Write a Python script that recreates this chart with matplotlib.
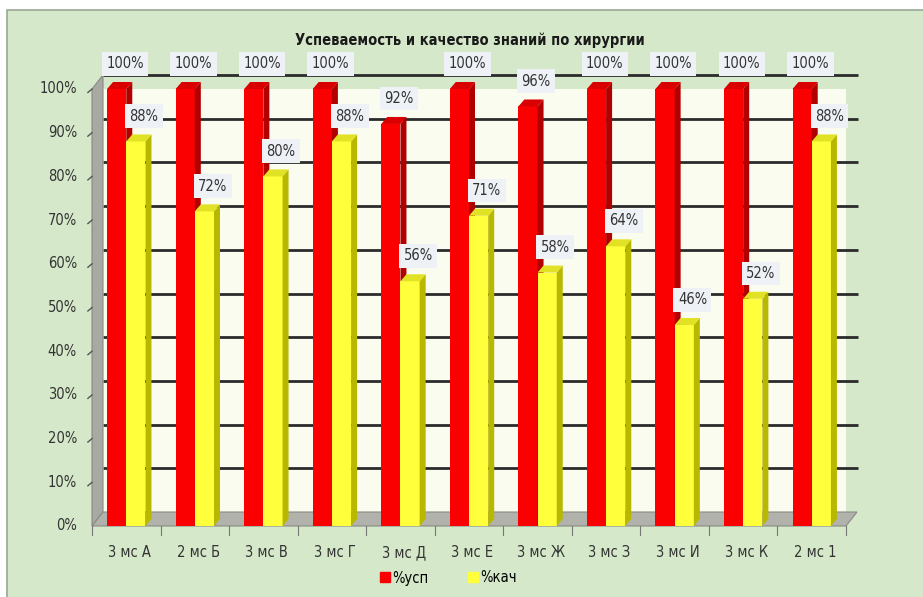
import matplotlib
matplotlib.use('Agg')
import matplotlib.pyplot as plt
from matplotlib.patches import Polygon, Rectangle
from matplotlib.lines import Line2D
import numpy as np

# data
groups = ['3 мс А', '2 мс Б', '3 мс В', '3 мс Г', '3 мс Д', '3 мс Е',
          '3 мс Ж', '3 мс З', '3 мс И', '3 мс К', '2 мс 1']
usp = [100, 100, 100, 100, 92, 100, 96, 100, 100, 100, 100]
kach = [88, 72, 80, 88, 56, 71, 58, 64, 46, 52, 88]
y_ticks = [0, 10, 20, 30, 40, 50, 60, 70, 80, 90, 100]

plt.rcParams['font.family'] = ['DejaVu Sans']
plt.rcParams['font.stretch'] = 'condensed'

fig = plt.figure(figsize=(9.23, 5.97), dpi=100)
fig.patch.set_facecolor('white')
# green chart area with thin border
fig.add_artist(Rectangle((7 / 923, -0.01), 1.0, (597 - 10) / 597 + 0.01,
                         transform=fig.transFigure, facecolor='#d5e8c9',
                         edgecolor='#9aa894', linewidth=1.2, zorder=0))

ax = fig.add_axes([92 / 923, (597 - 526) / 597, (846 - 92) / 923, (526 - 89) / 597])
ax.set_xlim(-0.5, len(groups) - 0.5)
ax.set_ylim(0, 100)
ax.axis('off')

# depth offset in pixels -> data units
fig.canvas.draw()
px_x = ax.transData.transform((1, 0))[0] - ax.transData.transform((0, 0))[0]
px_y = ax.transData.transform((0, 1))[1] - ax.transData.transform((0, 0))[1]
dx = 11 / px_x
dy = 14 / px_y
bdx = 6 / px_x
bdy = 7 / px_y

x0, x1 = -0.5, len(groups) - 0.5

# back wall
ax.add_patch(Polygon([(x0 + dx, dy), (x1 + dx, dy), (x1 + dx, 100 + dy), (x0 + dx, 100 + dy)],
                     closed=True, facecolor='#fafcf0', edgecolor='none', zorder=1))
# left wall
ax.add_patch(Polygon([(x0, 0), (x0 + dx, dy), (x0 + dx, 100 + dy), (x0, 100)],
                     closed=True, facecolor='#a9a9a3', edgecolor='#8a8a85', lw=0.8,
                     zorder=2, clip_on=False))
# floor
ax.add_patch(Polygon([(x0, 0), (x1, 0), (x1 + dx, dy), (x0 + dx, dy)],
                     closed=True, facecolor='#b2b2ac', edgecolor='#8a8a85', lw=0.8,
                     zorder=2, clip_on=False))

# gridlines on back wall
for t in y_ticks[1:]:
    ax.plot([x0 + dx, x1 + dx + 0.02], [t + dy, t + dy], color='#2b2b2b', lw=2.0,
            zorder=1.5, clip_on=False, solid_capstyle='butt')
    ax.plot([x0 - 0.06, x0], [t - 0.8, t], color='#555555', lw=1.0, zorder=2,
            clip_on=False)
for t in y_ticks:
    ax.text(x0 - 0.22, t, f'{t}%', ha='right', va='center', fontsize=10.5,
            color='#333333')

# category ticks on floor edge
for i in range(len(groups) + 1):
    xx = x0 + i
    ax.plot([xx, xx], [0, -2], color='#777777', lw=0.8, clip_on=False, zorder=2)
for i, g in enumerate(groups):
    ax.text(i + 0.05, -6, g, ha='center', va='center', fontsize=10.5, color='#333333')

w = 0.28
x = np.arange(len(groups))


def bar3d(xc, h, front, side, top):
    ax.bar(xc, h, width=w, color=front, edgecolor='none', zorder=3)
    l, r = xc - w / 2, xc + w / 2
    ax.add_patch(Polygon([(r, 0), (r + bdx, bdy), (r + bdx, h + bdy), (r, h)],
                         closed=True, facecolor=side, edgecolor='none', zorder=3,
                         clip_on=False))
    ax.add_patch(Polygon([(l, h), (l + bdx, h + bdy), (r + bdx, h + bdy), (r, h)],
                         closed=True, facecolor=top, edgecolor='none', zorder=3,
                         clip_on=False))


def label(xc, h):
    ax.text(xc + 0.12, h + 5.8, f'{h}%', ha='center', va='center', fontsize=10.5,
            color='#333333', zorder=5, clip_on=False,
            bbox=dict(boxstyle='square,pad=0.3', facecolor='#eef2f7',
                      edgecolor='none'))


for i in range(len(groups)):
    bar3d(x[i] - w / 2, usp[i], '#fa0000', '#b00000', '#d80000')
    bar3d(x[i] + w / 2, kach[i], '#ffff3c', '#b8b800', '#e2e224')
for i in range(len(groups)):
    label(x[i] - w / 2, usp[i])
    label(x[i] + w / 2, kach[i])

fig.text(470 / 923, 1 - 40 / 597, 'Успеваемость и качество знаний по хирургии',
         ha='center', va='center', fontsize=10.5, fontweight='bold', color='#1a1a1a')

handles = [Line2D([], [], marker='s', ls='none', color='#fa0000', markersize=7),
           Line2D([], [], marker='s', ls='none', color='#ffff3c', markersize=7)]
fig.legend(handles, ['%усп', '%кач'], loc='center', bbox_to_anchor=(448 / 923, 19 / 597),
           ncol=2, frameon=False, fontsize=10.5, handletextpad=0.1, columnspacing=2.6,
           handlelength=0.8)

fig.savefig('out.png', dpi=100)
